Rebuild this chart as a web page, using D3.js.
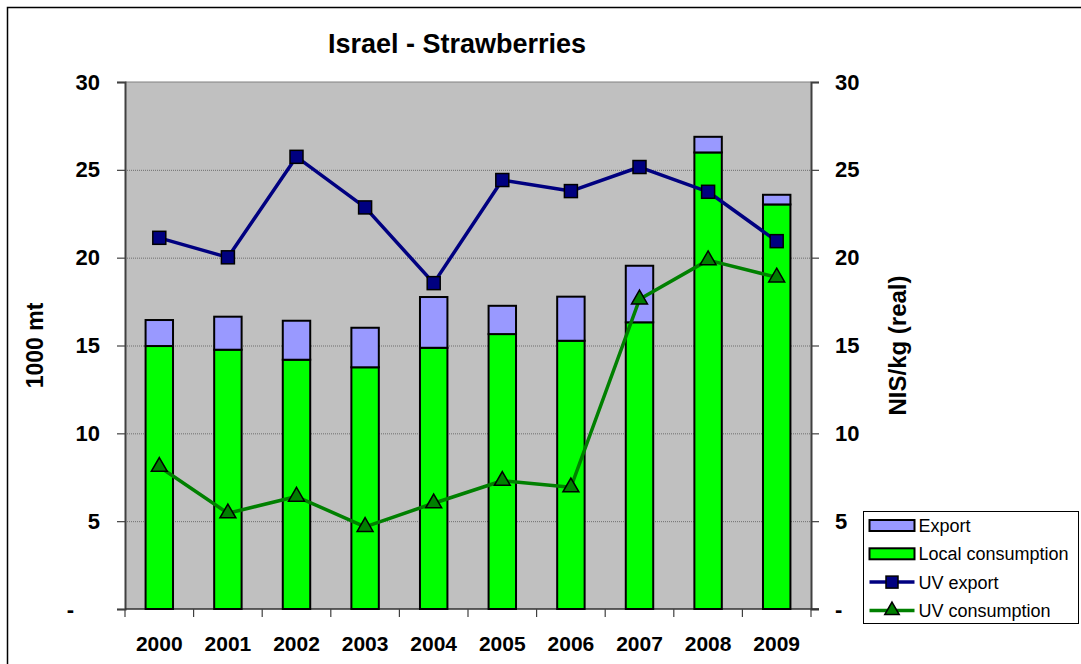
<!DOCTYPE html>
<html>
<head>
<meta charset="utf-8">
<script src="https://cdn.jsdelivr.net/npm/d3@7"></script>
<style>
  html, body { margin: 0; padding: 0; background: #fff; }
  svg { display: block; font-family: Arial, "Liberation Sans", sans-serif; }
</style>
</head>
<body>
<svg id="chart" width="1081" height="664"></svg>
<script>
// Israel strawberries: volumes (1000 mt) and unit values (NIS/kg, real)
const years = ["2000", "2001", "2002", "2003", "2004", "2005", "2006", "2007", "2008", "2009"];
const localConsumption = [14.97, 14.76, 14.19, 13.76, 14.87, 15.65, 15.27, 16.32, 25.99, 23.03];
const exportVol = [1.48, 1.88, 2.22, 2.25, 2.89, 1.61, 2.51, 3.22, 0.89, 0.55];
const uvExport = [21.13, 20.02, 25.74, 22.86, 18.55, 24.42, 23.79, 25.16, 23.75, 20.94];
const uvConsumption = [8.1, 5.45, 6.4, 4.68, 6.02, 7.3, 6.93, 17.63, 19.86, 18.88];
const leftTicks = [0, 5, 10, 15, 20, 25, 30];
const rightTicks = [0, 5, 10, 15, 20, 25, 30];

const svg = d3.select("#chart");
const plot = { left: 125, right: 811, top: 82, bottom: 609 };

// outer chart frame
svg.append("rect")
  .attr("x", 7.5).attr("y", 7.5).attr("width", 1090).attr("height", 680)
  .attr("fill", "#fff").attr("stroke", "#000").attr("stroke-width", 1.5);

const x = d3.scaleBand().domain(years).range([plot.left, plot.right]).padding(0);
const yL = d3.scaleLinear().domain([0, 30]).range([plot.bottom, plot.top]);
const yR = d3.scaleLinear().domain([0, 30]).range([plot.bottom, plot.top]);

// plot background
svg.append("rect")
  .attr("x", plot.left).attr("y", plot.top)
  .attr("width", plot.right - plot.left).attr("height", plot.bottom - plot.top)
  .attr("fill", "#c0c0c0");

// horizontal gridlines
svg.append("g").selectAll("line")
  .data(leftTicks.filter(d => d > 0 && d < 30))
  .join("line")
  .attr("x1", plot.left).attr("x2", plot.right)
  .attr("y1", d => yL(d) + 0.5).attr("y2", d => yL(d) + 0.5)
  .attr("stroke", "#6e6e6e").attr("stroke-width", 1)
  .attr("stroke-dasharray", "1,1");

// top edge of plot
svg.append("line")
  .attr("x1", plot.left).attr("x2", plot.right)
  .attr("y1", plot.top).attr("y2", plot.top)
  .attr("stroke", "#808080").attr("stroke-width", 1);

// left axis
const leftAxis = d3.axisLeft(yL).tickValues(leftTicks).tickSize(8).tickPadding(17)
  .tickFormat(d => d === 0 ? "-" : d);
const gL = svg.append("g").attr("transform", `translate(${plot.left},0)`).call(leftAxis);
gL.select(".domain").attr("stroke", "#404040").attr("stroke-width", 2);
gL.selectAll(".tick line").attr("stroke", "#404040").attr("stroke-width", 1.2);
gL.selectAll(".tick text")
  .attr("font-size", 22).attr("font-weight", "bold").attr("fill", "#000")
  .attr("font-family", "Arial, 'Liberation Sans', sans-serif")
  .attr("dx", d => d === 0 ? -26 : 0);

// right axis
const rightAxis = d3.axisRight(yR).tickValues(rightTicks).tickSize(8).tickPadding(16)
  .tickFormat(d => d === 0 ? "-" : d);
const gR = svg.append("g").attr("transform", `translate(${plot.right},0)`).call(rightAxis);
gR.select(".domain").attr("stroke", "#404040").attr("stroke-width", 2);
gR.selectAll(".tick line").attr("stroke", "#404040").attr("stroke-width", 1.2);
gR.selectAll(".tick text")
  .attr("font-size", 22).attr("font-weight", "bold").attr("fill", "#000")
  .attr("font-family", "Arial, 'Liberation Sans', sans-serif");

// bottom category axis with ticks on boundaries
const gB = svg.append("g").attr("transform", `translate(0,${plot.bottom})`);
gB.append("line")
  .attr("x1", plot.left).attr("x2", plot.right + 8)
  .attr("stroke", "#303030").attr("stroke-width", 1.5);
gB.selectAll("line.tk")
  .data(years.concat(["end"]))
  .join("line").attr("class", "tk")
  .attr("x1", (d, i) => plot.left + i * x.step()).attr("x2", (d, i) => plot.left + i * x.step())
  .attr("y1", 0).attr("y2", 8)
  .attr("stroke", "#404040").attr("stroke-width", 1.2);
gB.selectAll("text")
  .data(years)
  .join("text")
  .attr("x", d => x(d) + x.bandwidth() / 2)
  .attr("y", 42)
  .attr("text-anchor", "middle")
  .attr("font-size", 21).attr("font-weight", "bold")
  .text(d => d);

// stacked bars
const barW = x.bandwidth() * 0.4;
const bars = svg.append("g");
years.forEach((yr, i) => {
  const cx = x(yr) + x.bandwidth() / 2;
  bars.append("rect")
    .attr("x", cx - barW / 2).attr("width", barW)
    .attr("y", yL(localConsumption[i]))
    .attr("height", yL(0) - yL(localConsumption[i]))
    .attr("fill", "#00ff00").attr("stroke", "#000").attr("stroke-width", 2);
  bars.append("rect")
    .attr("x", cx - barW / 2).attr("width", barW)
    .attr("y", yL(localConsumption[i] + exportVol[i]))
    .attr("height", yL(localConsumption[i]) - yL(localConsumption[i] + exportVol[i]))
    .attr("fill", "#9999ff").attr("stroke", "#000").attr("stroke-width", 2);
});

const cxOf = (d, i) => x(years[i]) + x.bandwidth() / 2;

// unit value lines
const lineGen = d3.line().x((d, i) => cxOf(d, i)).y(d => yR(d));
svg.append("path").datum(uvExport)
  .attr("d", lineGen).attr("fill", "none")
  .attr("stroke", "#000080").attr("stroke-width", 3.5).attr("stroke-linejoin", "round");
svg.append("path").datum(uvConsumption)
  .attr("d", lineGen).attr("fill", "none")
  .attr("stroke", "#008000").attr("stroke-width", 3.5).attr("stroke-linejoin", "round");

// markers
const sq = 13;
svg.append("g").selectAll("rect")
  .data(uvExport).join("rect")
  .attr("x", (d, i) => cxOf(d, i) - sq / 2).attr("y", d => yR(d) - sq / 2)
  .attr("width", sq).attr("height", sq)
  .attr("fill", "#000080").attr("stroke", "#000").attr("stroke-width", 1.5);

const tri = d3.symbol().type(d3.symbolTriangle).size(110);
svg.append("g").selectAll("path")
  .data(uvConsumption).join("path")
  .attr("d", tri)
  .attr("transform", (d, i) => `translate(${cxOf(d, i)},${yR(d)})`)
  .attr("fill", "#008000").attr("stroke", "#000").attr("stroke-width", 1.5);

// title
svg.append("text")
  .attr("x", 457).attr("y", 53)
  .attr("text-anchor", "middle")
  .attr("font-size", 27).attr("font-weight", "bold")
  .text("Israel - Strawberries");

// axis titles
svg.append("text")
  .attr("transform", `translate(43,${(plot.top + plot.bottom) / 2}) rotate(-90)`)
  .attr("text-anchor", "middle")
  .attr("font-size", 23).attr("font-weight", "bold")
  .text("1000 mt");
svg.append("text")
  .attr("transform", `translate(906,${(plot.top + plot.bottom) / 2}) rotate(-90)`)
  .attr("text-anchor", "middle")
  .attr("font-size", 24).attr("font-weight", "bold")
  .text("NIS/kg (real)");

// legend
const legend = svg.append("g").attr("transform", "translate(863.5,511.5)");
legend.append("rect")
  .attr("width", 215).attr("height", 112)
  .attr("fill", "#fff").attr("stroke", "#000").attr("stroke-width", 1);
const legendItems = [
  { label: "Export", kind: "bar", color: "#9999ff" },
  { label: "Local consumption", kind: "bar", color: "#00ff00" },
  { label: "UV export", kind: "square", color: "#000080" },
  { label: "UV consumption", kind: "triangle", color: "#008000" }
];
legendItems.forEach((it, i) => {
  const cy = 14 + i * 28.3;
  const g = legend.append("g").attr("transform", `translate(0,${cy})`);
  if (it.kind === "bar") {
    g.append("rect").attr("x", 6).attr("y", -5.5).attr("width", 45).attr("height", 11)
      .attr("fill", it.color).attr("stroke", "#000").attr("stroke-width", 2);
  } else {
    g.append("line").attr("x1", 6).attr("x2", 51).attr("y1", 0).attr("y2", 0)
      .attr("stroke", it.color).attr("stroke-width", 3.5);
    if (it.kind === "square") {
      g.append("rect").attr("x", 28.5 - 6).attr("y", -6).attr("width", 12).attr("height", 12)
        .attr("fill", it.color).attr("stroke", "#000").attr("stroke-width", 1.5);
    } else {
      g.append("path").attr("d", d3.symbol().type(d3.symbolTriangle).size(90))
        .attr("transform", "translate(28.5,0)")
        .attr("fill", it.color).attr("stroke", "#000").attr("stroke-width", 1.5);
    }
  }
  g.append("text").attr("x", 55).attr("y", 6.5)
    .attr("font-size", 18).text(it.label);
});
</script>
</body>
</html>
